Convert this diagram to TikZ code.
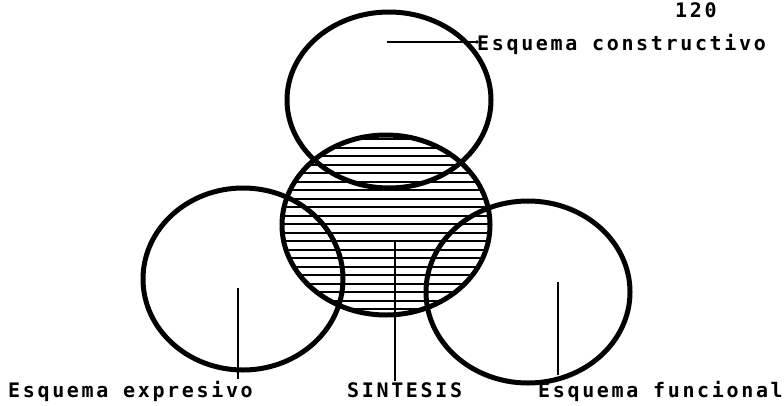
\documentclass[tikz,border=0pt]{standalone}
\usepackage{fontspec}
\newfontfamily\labelfont[LetterSpace=13.3]{DejaVu Sans Mono}
\begin{document}
\begin{tikzpicture}[x=1pt,y=-1pt,
  outline/.style={line width=5pt},
  hatch/.style={line width=2pt},
  leader/.style={line width=1.7pt},
  lbl/.style={inner sep=0pt,anchor=base west,font=\labelfont\bfseries\fontsize{20}{24}\selectfont}]
\useasboundingbox (0,0) rectangle (784,405);
% centres
\coordinate (ctop) at (389,100);
\coordinate (cmid) at (386,225);
\coordinate (cleft) at (243,279);
\coordinate (cright) at (528,292);
% hatching of the middle circle
\begin{scope}
  \clip (cmid) ellipse [x radius=104, y radius=90];
  \foreach \yy in {139,147.5,...,316} {
    \draw[hatch] (270,\yy) -- (505,\yy);
  }
\end{scope}
% outlines
\draw[outline] (ctop) ellipse [x radius=102, y radius=88];
\draw[outline] (cmid) ellipse [x radius=104, y radius=90];
\draw[outline] (cleft) ellipse [x radius=100, y radius=91];
\draw[outline] (cright) ellipse [x radius=102, y radius=91];
% labels
\node[lbl] (lcon) at (477,50) {Esquema constructivo};
\node[lbl] (lexp) at (8,397) {Esquema expresivo};
\node[lbl] (lsin) at (347,397) {SINTESIS};
\node[lbl] (lfun) at (538,397) {Esquema funcional};
\node[lbl] (lpage) at (675,17) {120};
% leader start points
\coordinate (pcon) at (387,42);
\coordinate (pexp) at (238,288);
\coordinate (psin) at (395,240);
\coordinate (pfun) at (558,282);
% leaders
\draw[leader] (pcon) -- (pcon -| lcon.west);
\fill (pcon -| lcon.west) circle (1.8);
\draw[leader] (pexp) -- ([yshift=2]pexp |- lexp.north);
\draw[leader] (psin) -- ([yshift=1]psin |- lsin.north);
\draw[leader] (pfun) -- ([yshift=6]pfun |- lfun.north);
\end{tikzpicture}
\end{document}
